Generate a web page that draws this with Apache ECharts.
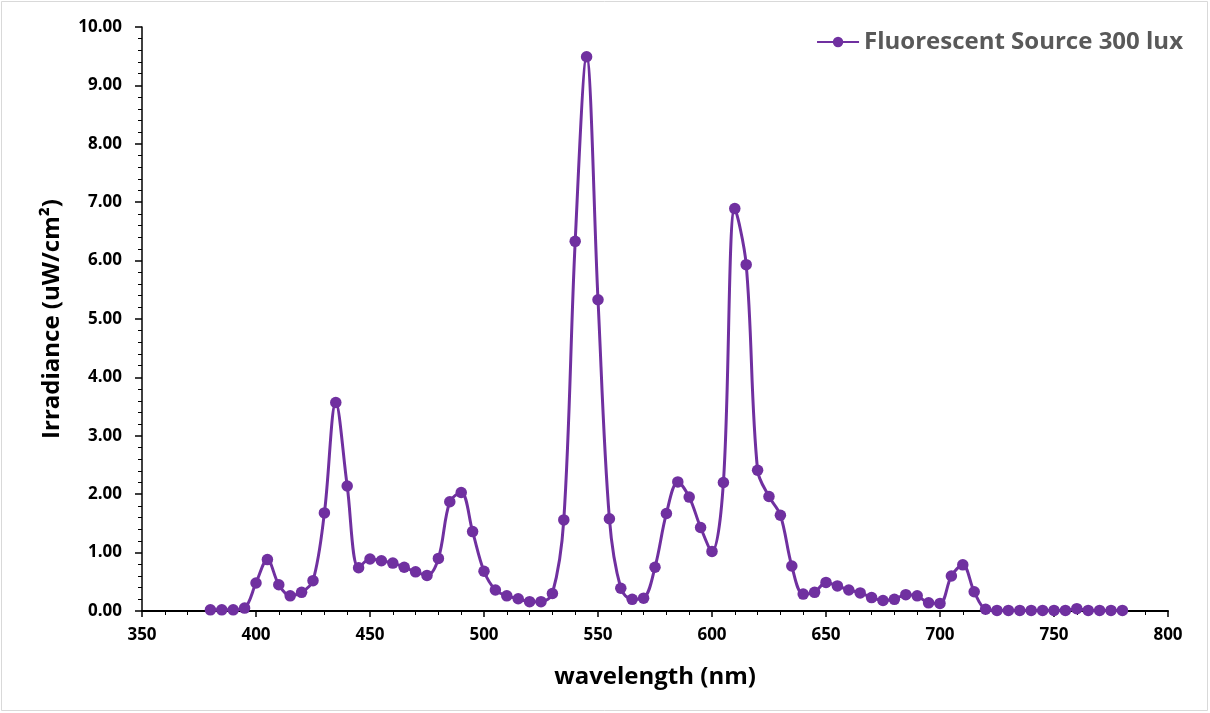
<!DOCTYPE html>
<html><head><meta charset="utf-8">
<script src="https://cdn.jsdelivr.net/npm/echarts@6/dist/echarts.min.js"></script>
<style>html,body{margin:0;padding:0;background:#fff}#c{width:1210px;height:713px}</style>
</head><body><div id="c"></div>
<script>
const wavelengths = [380,385,390,395,400,405,410,415,420,425,430,435,440,445,450,455,460,465,470,475,480,485,490,495,500,505,510,515,520,525,530,535,540,545,550,555,560,565,570,575,580,585,590,595,600,605,610,615,620,625,630,635,640,645,650,655,660,665,670,675,680,685,690,695,700,705,710,715,720,725,730,735,740,745,750,755,760,765,770,775,780];
const irradiance = [0.02,0.02,0.02,0.05,0.48,0.88,0.45,0.26,0.32,0.52,1.68,3.57,2.14,0.74,0.89,0.86,0.82,0.75,0.67,0.61,0.90,1.87,2.03,1.36,0.68,0.36,0.26,0.21,0.16,0.16,0.30,1.56,6.33,9.49,5.33,1.58,0.39,0.20,0.22,0.75,1.67,2.21,1.95,1.43,1.02,2.20,6.89,5.93,2.41,1.96,1.64,0.77,0.29,0.32,0.49,0.43,0.36,0.31,0.23,0.18,0.20,0.28,0.26,0.14,0.13,0.60,0.79,0.33,0.03,0.01,0.01,0.01,0.01,0.01,0.01,0.01,0.04,0.01,0.01,0.01,0.01];
const seriesName = 'Fluorescent Source 300 lux';
const xTitle = 'wavelength (nm)';
const yTitle = 'Irradiance (uW/cm²)';

const chart = echarts.init(document.getElementById('c'));
const FONT = '"Open Sans", "Liberation Sans", sans-serif';
chart.setOption({
  animation: false,
  backgroundColor: '#fff',
  graphic: [{type:'rect', shape:{x:1.5,y:1.5,width:1206,height:709}, style:{fill:'none', stroke:'#d9d9d9', lineWidth:1}, silent:true}],
  grid: {left:142, right:42, top:27, bottom:102},
  legend: {
    top: 25, right: 22, itemWidth: 42, itemHeight: 13, itemGap: 4,
    textStyle: {color:'#595959', fontSize:24, fontWeight:'bold', fontFamily:FONT},
    data: [seriesName]
  },
  xAxis: {
    type:'value', min:350, max:800, interval:50,
    name: xTitle, nameLocation:'middle', nameGap:54,
    nameTextStyle:{color:'#000', fontSize:24, fontWeight:'bold', fontFamily:FONT},
    axisLine:{show:true, onZero:false, lineStyle:{color:'#000', width:2}},
    axisTick:{show:true, inside:false, length:6, lineStyle:{color:'#000', width:1.5}},
    minorTick:{show:true, splitNumber:5, length:4, lineStyle:{color:'#000', width:1}},
    axisLabel:{color:'#000', fontSize:17, fontWeight:'bold', fontFamily:FONT, margin:16},
    splitLine:{show:false}
  },
  yAxis: {
    type:'value', min:0, max:10, interval:1,
    name: yTitle, nameLocation:'middle', nameGap:78, nameRotate:90,
    nameTextStyle:{color:'#000', fontSize:24, fontWeight:'bold', fontFamily:FONT},
    axisLine:{show:true, lineStyle:{color:'#000', width:1.5}},
    axisTick:{show:true, inside:false, length:7, lineStyle:{color:'#000', width:1.5}},
    minorTick:{show:true, splitNumber:5, length:4, lineStyle:{color:'#000', width:1}},
    axisLabel:{color:'#000', fontSize:17, fontWeight:'bold', fontFamily:FONT, margin:20,
      formatter: v => v.toFixed(2)},
    splitLine:{show:false}
  },
  series: [{
    name: seriesName, type:'line', smooth:0.35,
    data: wavelengths.map((w,i)=>[w, irradiance[i]]),
    symbol:'circle', symbolSize:11.5, showSymbol:true,
    itemStyle:{color:'#7030A0'},
    lineStyle:{color:'#7030A0', width:3}
  }]
});
</script></body></html>
